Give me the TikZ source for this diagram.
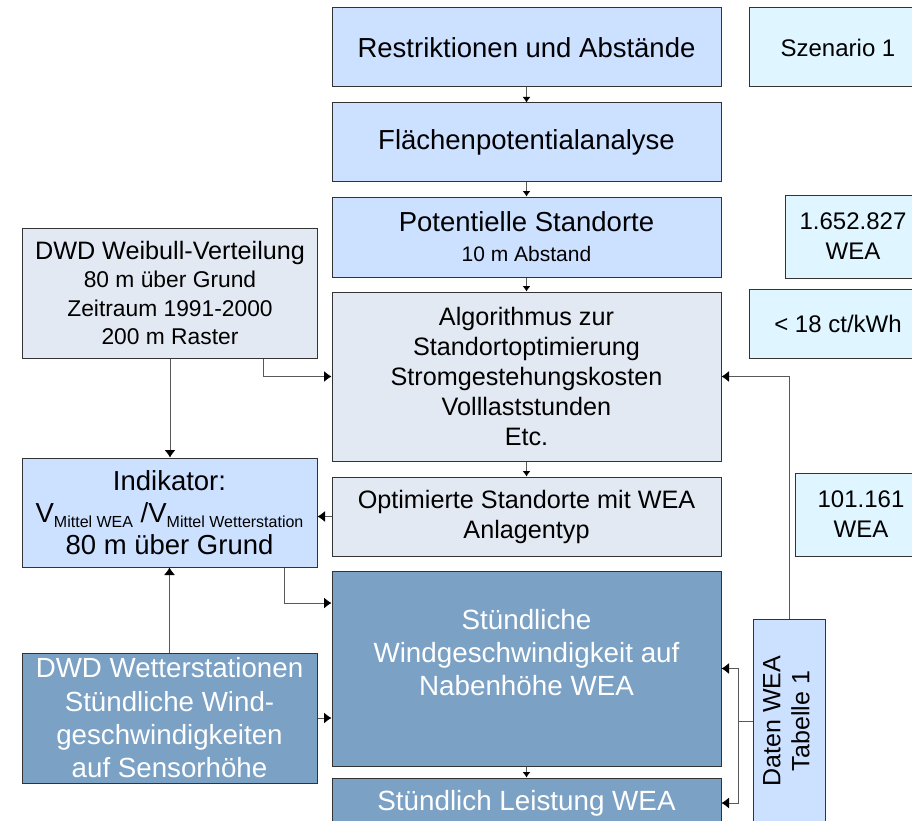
\documentclass[tikz,border=0pt]{standalone}
\usepackage{fontspec}
\usepackage{graphicx}
\setmainfont{Liberation Sans}
\usetikzlibrary{arrows.meta,positioning}
\definecolor{boxblue}{RGB}{204,224,255}
\definecolor{boxgrey}{RGB}{227,233,243}
\definecolor{boxdark}{RGB}{123,161,197}
\definecolor{boxcyan}{RGB}{223,245,255}
\newcommand{\lowtext}[1]{\raisebox{-5pt}{\fontsize{16}{16}\selectfont #1}}

\begin{document}
\begin{tikzpicture}[x=1pt,y=-1pt,
    node distance=14pt,
    box/.style={draw=black!80, line width=1pt, inner sep=0pt, align=center},
    colbox/.style={box, minimum width=389pt},
    sidebox/.style={box, minimum width=295pt},
    numbox/.style={box, fill=boxcyan, font=\fontsize{24}{30}\selectfont},
    arr/.style={-{Latex[length=7.5pt,width=11pt,color=black]}, line width=0.9pt, draw=black!65},
    smallarr/.style={-{Latex[length=5.5pt,width=8pt,color=black]}, line width=0.9pt, draw=black!65}]
    \useasboundingbox (0,0) rectangle (912,821);
    \clip (0,0) rectangle (912,821);

    % Mittlere Spalte
    \node[colbox, fill=boxblue, minimum height=79pt, font=\fontsize{27.5}{33}\selectfont] (restr) at (526.5,47.5) {Restriktionen und Abstände};
    \node[colbox, fill=boxblue, minimum height=79pt, font=\fontsize{27.5}{33}\selectfont, below=15pt of restr] (flaech) {Flächenpotentialanalyse};
    \node[colbox, fill=boxblue, minimum height=80pt, font=\fontsize{27.5}{30}\selectfont, below=of flaech] (pot) {Potentielle Standorte\\{\fontsize{21}{30}\selectfont 10 m Abstand}};
    \node[colbox, fill=boxgrey, minimum height=169pt, font=\fontsize{25.2}{30}\selectfont, below=of pot] (algo) {Algorithmus zur\\Standortoptimierung\\Stromgestehungskosten\\Volllaststunden\\Etc.};
    \node[colbox, fill=boxgrey, minimum height=79pt, font=\fontsize{25.2}{30}\selectfont, below=15pt of algo] (opt) {Optimierte Standorte mit WEA\\Anlagentyp};
    \node[colbox, fill=boxdark, text=white, minimum height=195pt, font=\fontsize{27.8}{33}\selectfont, below=of opt] (wind) {Stündliche\\Windgeschwindigkeit auf\\Nabenhöhe WEA\\\mbox{}};
    \node[colbox, fill=boxdark, text=white, minimum height=50pt, font=\fontsize{27.8}{33}\selectfont, below=11pt of wind] (leist) {Stündlich Leistung WEA};

    % Linke Spalte
    \node[sidebox, fill=boxgrey, minimum height=130pt, font=\fontsize{22.8}{28.5}\selectfont] (weib) at (170,293) {{\fontsize{25.2}{28.5}\selectfont DWD Weibull-Verteilung}\\80 m über Grund\\Zeitraum 1991-2000\\200 m Raster};
    \node[sidebox, fill=boxblue, minimum height=109pt, font=\fontsize{27.5}{32}\selectfont] (indik) at (169.5,512.5) {Indikator:\\V\lowtext{Mittel WEA} /V\lowtext{Mittel Wetterstation}\\80 m über Grund};
    \node[sidebox, fill=boxdark, text=white, minimum height=130pt, font=\fontsize{27.7}{33.3}\selectfont] (wetter) at (169.5,718) {DWD Wetterstationen\\Stündliche Wind-\\geschwindigkeiten\\auf Sensorhöhe};

    % Rechte Spalte
    \node[numbox, minimum width=178pt, minimum height=79pt] (szen) at (838,47.5) {Szenario 1};
    \node[numbox, minimum width=136pt, minimum height=83pt] (anz1) at (853,236.5) {1.652.827\\WEA};
    \node[numbox, minimum width=178pt, minimum height=69pt] (kost) at (838,323.5) {< 18 ct/kWh};
    \node[numbox, minimum width=132pt, minimum height=83pt] (anz2) at (861,514.5) {101.161\\WEA};
    \node[box, fill=boxblue, minimum width=72pt, minimum height=204pt, font=\fontsize{25}{29}\selectfont] (daten) at (789,721) {\rotatebox{90}{\begin{tabular}{@{}c@{}}Daten WEA\\Tabelle 1\end{tabular}}};

    % Verbindungen
    \draw[smallarr] (restr) -- (flaech);
    \draw[smallarr] (flaech) -- (pot);
    \draw[smallarr] (pot) -- (algo);
    \draw[smallarr] (algo) -- (opt);
    \draw[smallarr] (wind) -- (leist);
    \draw[arr] (weib.south) -- (weib.south |- indik.north);
    \draw[arr] ([xshift=93.5pt]weib.south) |- (algo.west);
    \draw[arr] (daten.north) |- (algo.east);
    \draw[arr] (opt.west) -- (opt.west -| indik.east);
    \draw[arr] ([xshift=115pt]indik.south) |- ([yshift=65.5pt]wind.west);
    \draw[arr] (wetter.north) -- (wetter.north |- indik.south);
    \draw[arr] (wetter.east) -- (wetter.east -| wind.west);
    \coordinate (split) at ([xshift=-14pt]daten.west);
    \draw[line width=0.9pt, draw=black!65] (daten.west) -- (split);
    \draw[arr] (split) |- (wind.east);
    \draw[arr] (split) |- (leist.east);
\end{tikzpicture}
\end{document}
